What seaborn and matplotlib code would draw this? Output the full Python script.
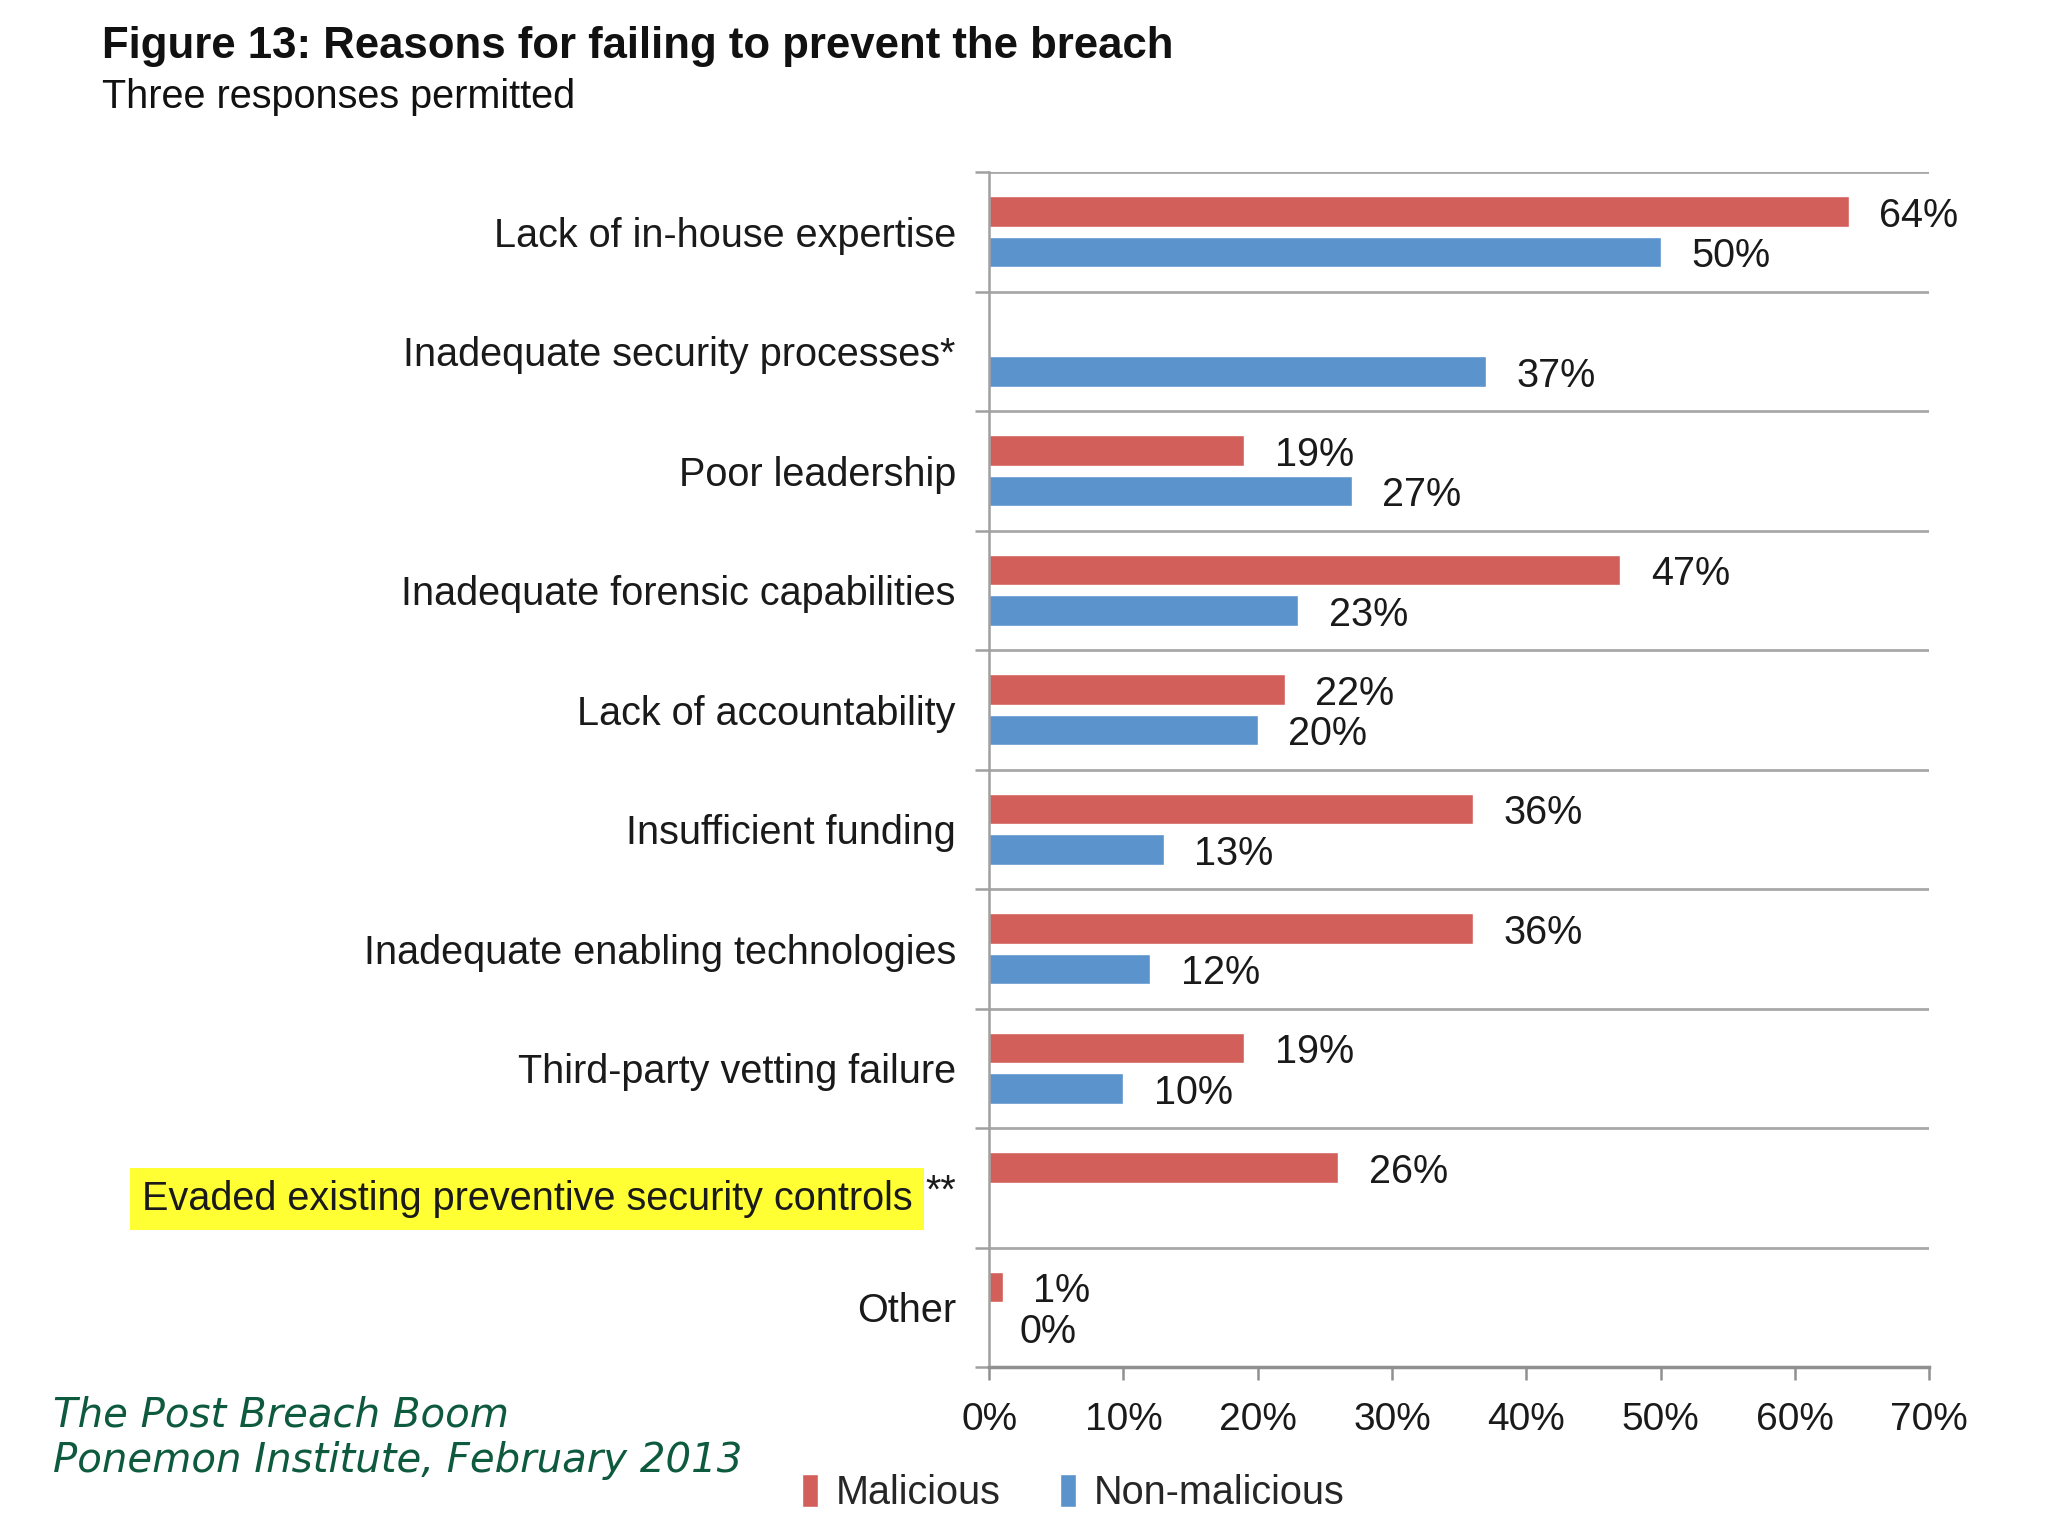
import numpy as np
import pandas as pd
import seaborn as sns
import matplotlib.pyplot as plt

# donnees
categories = ["Lack of in-house expertise", "Inadequate security processes*", "Poor leadership",
              "Inadequate forensic capabilities", "Lack of accountability", "Insufficient funding",
              "Inadequate enabling technologies", "Third-party vetting failure",
              "Evaded existing preventive security controls", "Other"]
malicious = [64, np.nan, 19, 47, 22, 36, 36, 19, 26, 1]
non_malicious = [50, 37, 27, 23, 20, 13, 12, 10, np.nan, 0]
series = ["Malicious", "Non-malicious"]
xticks = [0, 10, 20, 30, 40, 50, 60, 70]

df = pd.DataFrame({
    "reason": categories * 2,
    "type": [series[0]] * len(categories) + [series[1]] * len(categories),
    "pct": malicious + non_malicious,
})

sns.set_style("white")
plt.rcParams['font.family'] = ['Liberation Sans', 'DejaVu Sans']

fig = plt.figure(figsize=(20.48, 15.36), dpi=100)
ax = fig.add_axes([0.483, 0.110, 0.459, 0.778])

sns.barplot(data=df, y="reason", x="pct", hue="type", orient="h",
            palette=["#d35f5a", "#5b93cd"], saturation=1, width=0.68, gap=0.25,
            errorbar=None, ax=ax, legend=True)

for c in ax.containers:
    txts = ax.bar_label(c, labels=['' if np.isnan(v) else f'{v:.0f}%' for v in c.datavalues],
                        padding=22, fontsize=28.5, color="#1a1a1a")
    for t in txts:
        t.xyann = (t.xyann[0], -3)  # un peu plus bas comme sur l'original

ax.set_xlim(0, 70)
ax.set_ylim(9.5, -0.5)
ax.set_xticks(xticks)
ax.set_xticklabels([f"{t}%" for t in xticks], fontsize=28, color="#1a1a1a")
ax.tick_params(axis="x", which="major", length=9, width=1.8, color="#909090", pad=16, bottom=True)
ax.tick_params(axis="y", which="major", length=0, pad=24, labelsize=28.5, labelcolor="#1a1a1a")
ax.set_yticks(np.arange(-0.5, 10, 1), minor=True)
ax.tick_params(axis="y", which="minor", length=10, width=1.8, color="#a0a0a0", left=True)
ax.grid(which="minor", axis="y", color="#a8a8a8", linewidth=2)
ax.set_xlabel("")
ax.set_ylabel("")
for s in ["top", "right"]:
    ax.spines[s].set_visible(False)
ax.spines["left"].set_color("#a0a0a0")
ax.spines["left"].set_linewidth(1.8)
ax.spines["bottom"].set_color("#909090")
ax.spines["bottom"].set_linewidth(2.5)

# libelle surligne en jaune
lab = ax.get_yticklabels()
idx = categories.index("Evaded existing preventive security controls")
lab[idx].set_text("**")
ax.set_yticklabels([l.get_text() for l in lab])
star = ax.get_yticklabels()[idx]
ax.annotate(categories[idx], xy=(0, 0.5), xycoords=star, xytext=(-9, -5), textcoords="offset points",
            ha="right", va="center", fontsize=28.5, color="#1a1a1a",
            bbox=dict(boxstyle="square,pad=0.3", fc="#ffff33", ec="none"))

leg = ax.legend(loc="center", bbox_to_anchor=(0.524, 0.028), bbox_transform=fig.transFigure,
                ncol=2, frameon=False, fontsize=28.5, handlelength=0.4, handleheight=0.9,
                handletextpad=0.45, columnspacing=1.5)

fig.text(0.050, 0.970, "Figure 13: Reasons for failing to prevent the breach",
         fontsize=31.5, fontweight="bold", color="#111111", va="center")
fig.text(0.050, 0.937, "Three responses permitted", fontsize=28.5, color="#111111", va="center")
fig.text(0.026, 0.079, "The Post Breach Boom", fontsize=29, style="italic",
         family="DejaVu Sans", color="#0e5a3e", va="center")
fig.text(0.026, 0.049, "Ponemon Institute, February 2013", fontsize=29, style="italic",
         family="DejaVu Sans", color="#0e5a3e", va="center")

fig.savefig("out.png", dpi=100)
